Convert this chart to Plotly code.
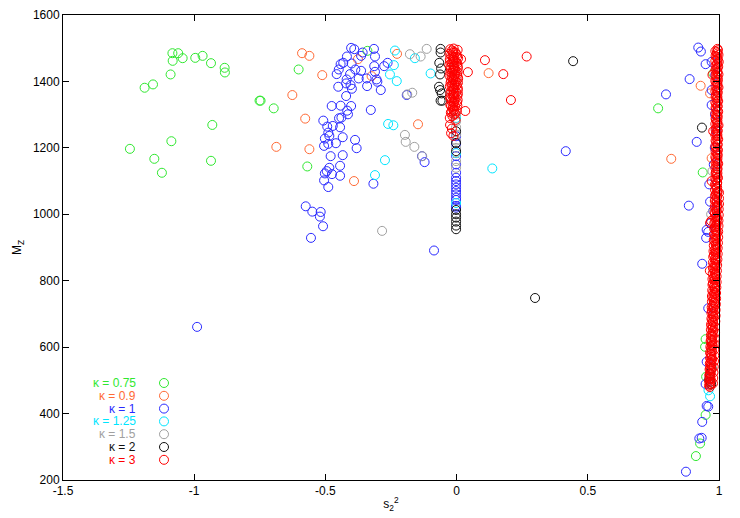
import plotly.graph_objects as go

# ── data ─────────────────────────────────────────────────────────────────────

K075_X = [-1.083, -1.061, -1.082, -1.044, -0.996, -0.968, -0.936, -0.884, -0.883, -1.090,
          -1.157, -1.189, -0.751, -0.747, -0.697, -0.931, -1.087, -1.245, -1.152, -0.936,
          -1.123, -0.569, -0.602, -0.340, 0.768, 0.938, 0.978, 0.949, 0.947, 0.951,
          0.949, 0.928, 0.912]
K075_Y = [1485, 1485, 1462, 1470, 1471, 1477, 1455, 1441, 1427, 1421,
          1391, 1381, 1342, 1342, 1319, 1269, 1220, 1197, 1167, 1161,
          1125, 1144, 1436, 1492, 1319, 1126, 1424, 624, 601, 511,
          396, 310, 272]

K09_X = [-0.589, -0.561, -0.626, -0.577, -0.687, -0.561, -0.512, -0.376, -0.227, -0.324,
         -0.147, -0.391, 0.122, 0.930, 0.818, 0.966, 0.972]
K09_Y = [1485, 1477, 1359, 1288, 1203, 1196, 1419, 1467, 1483, 1416,
         1271, 1100, 1425, 1387, 1167, 1364, 1169]

K1_X = [-0.402, -0.390, -0.315, -0.418, -0.358, -0.364, -0.311, -0.432, -0.442, -0.400,
        -0.449, -0.457, -0.386, -0.364, -0.406, -0.314, -0.311, -0.263, -0.276, -0.373,
        -0.343, -0.419, -0.421, -0.305, -0.302, -0.451, -0.404, -0.399, -0.341, -0.289,
        -0.421, -0.190, -0.476, -0.442, -0.402, -0.417, -0.414, -0.327, -0.448, -0.439,
        -0.508, -0.493, -0.472, -0.444, -0.489, -0.485, -0.502, -0.434, -0.387, -0.505,
        -0.489, -0.460, -0.381, -0.480, -0.434, -0.485, -0.444, -0.495, -0.502, -0.475,
        -0.444, -0.505, -0.489, -0.317, -0.132, -0.122, -0.575, -0.550, -0.518, -0.521,
        -0.509, -0.555, -0.086, -0.989, 0.416,
        # column at zero
        -0.002, -0.002, -0.002, -0.002, -0.002, -0.002, -0.002, -0.002, -0.002, -0.002,
        -0.002, -0.002, -0.002, -0.002, -0.002,
        # cluster at one
        0.921, 0.931, 0.949, 0.888, 0.798, 0.915, 0.885, 0.972, 0.972, 0.972,
        0.963, 0.966, 0.968, 0.953, 0.951, 0.936, 0.959, 0.953, 0.949, 0.953,
        0.936, 0.925, 0.934, 0.874, 0.959, 0.959, 0.985, 0.990, 0.984, 0.980,
        0.986, 0.978]
K1_Y = [1501, 1497, 1498, 1475, 1487, 1477, 1475, 1456, 1452, 1454,
        1436, 1422, 1436, 1432, 1422, 1446, 1429, 1456, 1446, 1409,
        1409, 1406, 1394, 1406, 1399, 1384, 1389, 1378, 1386, 1374,
        1356, 1359, 1326, 1327, 1326, 1312, 1301, 1314, 1289, 1291,
        1282, 1264, 1266, 1262, 1246, 1236, 1228, 1232, 1224, 1206,
        1212, 1214, 1199, 1175, 1178, 1140, 1146, 1130, 1123, 1121,
        1116, 1102, 1082, 1092, 1175, 1157, 1024, 1008, 1007, 993,
        964, 929, 891, 661, 1190,
        1235, 1212, 1175, 1150, 1125, 1110, 1100, 1090, 1080, 1070,
        1060, 1050, 1043, 1025, 1020,
        1502, 1490, 1452, 1407, 1361, 1218, 1026, 1459, 1374, 1329,
        1090, 1038, 973, 953, 929, 851, 717, 556, 489, 423,
        375, 325, 327, 225, 947, 421, 1300, 1250, 1200, 1150,
        1420, 1010]

K125_X = [-0.235, -0.159, -0.239, -0.254, -0.228, -0.099, -0.261, -0.241, -0.273, -0.311,
          0.136, -0.002, -0.002, -0.002, 0.966, 0.960]
K125_Y = [1493, 1470, 1449, 1421, 1401, 1424, 1272, 1268, 1163, 1118,
          1138, 1034, 1184, 1290, 452, 470]

K15_X = [-0.178, -0.137, -0.114, -0.188, -0.169, -0.197, -0.194, -0.161, -0.131, -0.284,
         -0.002, -0.002, -0.002, -0.002, -0.002, -0.002, -0.002, -0.002, -0.010, 0.000,
         -0.005, 0.975, 0.970]
K15_Y = [1482, 1475, 1498, 1361, 1366, 1239, 1218, 1203, 1175, 950,
         1300, 1280, 1262, 1240, 1222, 1200, 1160, 1140, 1440, 1400,
         1360, 1130, 1000]

K2_X = [0.444, 0.299, -0.061, -0.061, -0.066, -0.059, -0.063, -0.067, -0.063, -0.057,
        -0.061, -0.054, -0.002, -0.002, -0.002, -0.002, -0.002, -0.002, -0.002, -0.002,
        -0.002, 0.935, 0.972, 0.966, 0.963, 0.968, 0.970]
K2_Y = [1461, 748, 1498, 1487, 1456, 1439, 1421, 1384, 1374, 1364,
        1342, 1342, 1250, 1215, 1190, 1013, 1000, 990, 978, 966,
        955, 1261, 536, 520, 505, 496, 488]

# κ = 3 as (s2^2, M_Z) pairs: loose rings, the stack at zero, the stack at one
K3_LOOSE = [(0.017, 1467), (0.108, 1464), (0.267, 1475), (0.043, 1428), (0.178, 1422),
            (0.207, 1344), (0.033, 1311), (0.975, 1420), (0.978, 1250), (0.972, 1100),
            (0.970, 980), (0.966, 974), (0.965, 830)]
K3_ZERO = [(-0.024, 1497), (0.004, 1495), (-0.012, 1490), (-0.027, 1483), (0.000, 1481),
           (-0.015, 1476), (0.006, 1470), (-0.026, 1467), (-0.008, 1463), (-0.019, 1457),
           (0.003, 1454), (-0.028, 1449), (-0.011, 1445), (0.005, 1440), (-0.022, 1436),
           (-0.004, 1431), (-0.017, 1425), (0.002, 1421), (-0.027, 1417), (-0.010, 1412),
           (0.006, 1408), (-0.021, 1403), (-0.003, 1399), (-0.016, 1393), (0.001, 1389),
           (-0.026, 1385), (-0.009, 1380), (0.005, 1375), (-0.020, 1371), (-0.002, 1366),
           (-0.014, 1360), (0.003, 1356), (-0.025, 1351), (-0.007, 1346), (-0.018, 1340),
           (0.002, 1336), (-0.024, 1330), (-0.006, 1325), (-0.015, 1318), (0.001, 1312),
           (-0.022, 1306), (-0.010, 1300), (-0.026, 1290), (-0.004, 1284), (-0.025, 1269),
           (-0.018, 1258), (-0.021, 1244), (-0.012, 1236),
           (-0.018, 1493), (-0.004, 1487), (-0.021, 1479), (0.002, 1474), (-0.013, 1466),
           (-0.025, 1460), (-0.001, 1458), (-0.016, 1451), (0.004, 1447), (-0.023, 1442),
           (-0.007, 1438), (-0.013, 1433), (0.004, 1428), (-0.024, 1427), (-0.006, 1420),
           (-0.019, 1414), (0.004, 1414), (-0.012, 1405), (-0.023, 1396), (0.005, 1396),
           (-0.007, 1391), (-0.019, 1386), (0.004, 1381), (-0.013, 1374), (-0.024, 1364),
           (0.005, 1363), (-0.010, 1357), (-0.021, 1349), (0.004, 1344), (-0.012, 1335),
           (-0.021, 1326), (0.003, 1327), (-0.009, 1315), (-0.019, 1310), (-0.005, 1303),
           (-0.016, 1296),
           (-0.011, 1499), (-0.013, 1486), (-0.010, 1472), (-0.012, 1459), (-0.009, 1446),
           (-0.012, 1432), (-0.010, 1419), (-0.013, 1406), (-0.009, 1392), (-0.012, 1379),
           (-0.010, 1366), (-0.012, 1352), (-0.009, 1339), (-0.013, 1326), (-0.011, 1312)]
K3_ONE = [(0.996, 1494), (0.992, 1488), (0.998, 1480), (0.991, 1474), (0.995, 1466),
          (0.999, 1459), (0.992, 1452), (0.997, 1444), (0.990, 1437), (0.994, 1430),
          (0.998, 1421), (0.991, 1414), (0.996, 1405), (0.990, 1398), (0.994, 1390),
          (0.998, 1382), (0.991, 1374), (0.995, 1366), (0.989, 1358), (0.993, 1350),
          (0.997, 1341), (0.990, 1333), (0.995, 1325), (0.989, 1317), (0.997, 1309),
          (0.991, 1300), (0.995, 1292), (0.989, 1284), (0.993, 1276), (0.998, 1268),
          (0.990, 1260), (0.995, 1251), (0.989, 1243), (0.993, 1235), (0.997, 1226),
          (0.990, 1218), (0.995, 1210), (0.989, 1201), (0.996, 1193), (0.991, 1185),
          (0.995, 1177), (0.989, 1168), (0.993, 1160), (0.997, 1152), (0.990, 1144),
          (0.994, 1135), (0.988, 1127), (0.992, 1119), (0.996, 1110), (0.989, 1102),
          (0.993, 1094), (0.987, 1086), (0.991, 1077), (0.995, 1069), (0.988, 1061),
          (0.992, 1052), (0.986, 1044), (0.990, 1036), (0.994, 1027), (0.987, 1019),
          (0.991, 1011), (0.985, 1002), (0.989, 994), (0.993, 986), (0.986, 977),
          (0.990, 969), (0.984, 961), (0.988, 952), (0.992, 944), (0.985, 936),
          (0.989, 927), (0.983, 919), (0.987, 910), (0.990, 902), (0.984, 894),
          (0.987, 885), (0.981, 877), (0.985, 868), (0.988, 860), (0.982, 851),
          (0.985, 843), (0.979, 835), (0.983, 826), (0.986, 818), (0.980, 809),
          (0.983, 801), (0.977, 792), (0.981, 784), (0.984, 776), (0.978, 767),
          (0.981, 759), (0.975, 750), (0.979, 742), (0.982, 733), (0.976, 725),
          (0.979, 716), (0.973, 708), (0.977, 699), (0.980, 691), (0.974, 682),
          (0.977, 674), (0.971, 665), (0.975, 657), (0.978, 648), (0.972, 640),
          (0.975, 631), (0.970, 622), (0.973, 614), (0.976, 605), (0.970, 597),
          (0.973, 588), (0.968, 580), (0.971, 571), (0.974, 563), (0.968, 554),
          (0.971, 546), (0.966, 537), (0.969, 529), (0.967, 520), (0.965, 512),
          (0.968, 503), (0.964, 495), (0.966, 487), (0.965, 480),
          (0.986, 1491), (1.002, 1484), (0.987, 1477), (1.001, 1470), (0.986, 1462),
          (1.002, 1455), (0.987, 1448), (1.001, 1440), (0.986, 1433), (1.002, 1426),
          (0.987, 1417), (1.001, 1409), (0.986, 1401), (1.002, 1394), (0.987, 1386),
          (1.001, 1378), (0.986, 1370), (1.002, 1362), (0.987, 1354), (1.001, 1346),
          (0.986, 1337), (1.002, 1329), (0.987, 1321), (1.001, 1313), (0.986, 1304),
          (1.002, 1296), (0.987, 1288), (1.001, 1280), (0.986, 1272), (1.002, 1264),
          (0.987, 1255), (1.001, 1247), (0.986, 1239), (1.002, 1230), (0.987, 1222),
          (1.001, 1214), (0.986, 1205), (1.002, 1197), (0.987, 1189), (1.001, 1181),
          (0.986, 1172), (1.002, 1164), (0.987, 1156), (1.001, 1148), (0.986, 1139),
          (1.002, 1131), (0.987, 1123), (1.001, 1114), (0.986, 1106), (1.001, 1098),
          (0.985, 1090), (1.001, 1081), (0.985, 1073), (1.000, 1065), (0.985, 1056),
          (1.000, 1048), (0.984, 1040), (1.000, 1031), (0.984, 1023), (0.999, 1015),
          (0.983, 1006), (0.999, 998), (0.983, 990), (0.998, 981), (0.982, 973),
          (0.998, 965), (0.982, 956), (0.997, 948), (0.981, 940), (0.997, 931),
          (0.980, 923), (0.996, 914), (0.980, 906), (0.995, 898), (0.979, 889),
          (0.995, 881), (0.978, 872), (0.994, 864), (0.977, 855), (0.993, 847),
          (0.977, 839), (0.992, 830), (0.976, 822), (0.991, 813), (0.975, 805),
          (0.991, 796), (0.975, 788), (0.990, 780), (0.974, 771), (0.989, 763),
          (0.973, 754), (0.989, 746), (0.973, 737), (0.988, 729), (0.972, 720),
          (0.987, 712), (0.971, 703), (0.987, 695), (0.971, 686), (0.986, 678),
          (0.970, 669), (0.985, 661), (0.969, 652), (0.985, 644), (0.969, 635),
          (0.984, 626), (0.968, 618), (0.983, 609), (0.967, 601), (0.982, 592),
          (0.966, 584), (0.982, 575), (0.966, 567), (0.981, 558), (0.965, 550),
          (0.980, 541), (0.964, 533), (0.979, 524), (0.963, 516), (0.978, 507),
          (0.962, 499), (0.977, 491), (0.962, 484),
          (0.994, 1498), (0.994, 1484), (0.994, 1469), (0.994, 1455), (0.994, 1441),
          (0.994, 1426), (0.994, 1412), (0.994, 1397), (0.994, 1383), (0.994, 1369),
          (0.994, 1354), (0.994, 1340), (0.994, 1325), (0.994, 1311), (0.994, 1297),
          (0.994, 1282), (0.994, 1268), (0.994, 1253), (0.994, 1239), (0.994, 1225),
          (0.994, 1210), (0.994, 1196), (0.994, 1181), (0.994, 1167), (0.994, 1153),
          (0.994, 1138), (0.994, 1124), (0.994, 1109), (0.993, 1095), (0.993, 1081),
          (0.993, 1066), (0.992, 1052), (0.992, 1037), (0.992, 1023), (0.991, 1009),
          (0.991, 994), (0.991, 980), (0.990, 965), (0.990, 951), (0.990, 937),
          (0.990, 922), (0.989, 908), (0.989, 893), (0.988, 879), (0.987, 865),
          (0.987, 850), (0.986, 836), (0.986, 821), (0.985, 807), (0.985, 793),
          (0.984, 778), (0.983, 764), (0.982, 749), (0.981, 735), (0.980, 721),
          (0.979, 706), (0.978, 692), (0.977, 677), (0.977, 663), (0.976, 649),
          (0.975, 634), (0.974, 620), (0.973, 605), (0.972, 591), (0.971, 577),
          (0.970, 562), (0.970, 548), (0.969, 533), (0.968, 519), (0.967, 505),
          (0.967, 490)]

KAPPA_LABELS = ["0.75", "0.9", "1", "1.25", "1.5", "2", "3"]
COLORS = ["#30e830", "#ff6a35", "#2a2aff", "#00e5ff", "#a0a0a0", "#111111", "#ff0000"]

X_TICKS = [-1.5, -1, -0.5, 0, 0.5, 1]
X_TICK_TEXT = ["-1.5", "-1", "-0.5", "0", "0.5", "1"]
Y_TICKS = [200, 400, 600, 800, 1000, 1200, 1400, 1600]

k3 = K3_LOOSE + K3_ZERO + K3_ONE
K3_X = [p[0] for p in k3]
K3_Y = [p[1] for p in k3]

SERIES = [(K075_X, K075_Y), (K09_X, K09_Y), (K1_X, K1_Y), (K125_X, K125_Y),
          (K15_X, K15_Y), (K2_X, K2_Y), (K3_X, K3_Y)]
for xs, ys in SERIES:
    assert len(xs) == len(ys)

FONT = "Liberation Sans, Arial, sans-serif"
SYMBOL = "circle-open"
MSIZE = 9

# the page body has an 8px default margin, so the figure is shrunk by that much
PAGE_OFF = 8

fig = go.Figure()
for (xs, ys), col, lab in zip(SERIES, COLORS, KAPPA_LABELS):
    fig.add_trace(go.Scatter(
        x=xs, y=ys, mode="markers", name=f"κ = {lab}", showlegend=False,
        cliponaxis=False,
        marker=dict(symbol=SYMBOL, size=MSIZE, color=col, line=dict(width=1, color=col)),
    ))

# gnuplot-style key: text right-aligned, symbol to its right (pixel coords on an overlay axis)
key_y = [383 + 12.8 * i for i in range(len(KAPPA_LABELS))]
fig.add_trace(go.Scatter(
    x=[164] * len(KAPPA_LABELS), y=key_y, xaxis="x2", yaxis="y2",
    mode="markers", showlegend=False, hoverinfo="skip",
    marker=dict(symbol=SYMBOL, size=MSIZE, color=COLORS, line=dict(width=1, color=COLORS)),
))
for lab, col, yy in zip(KAPPA_LABELS, COLORS, key_y):
    fig.add_annotation(x=138, y=yy, xref="x2", yref="y2", text=f"κ = {lab}",
                       showarrow=False, xanchor="right", yanchor="middle",
                       font=dict(family=FONT, size=12, color=col))

axis_common = dict(showline=True, linecolor="black", linewidth=1, mirror="ticks",
                   ticks="inside", ticklen=6, tickcolor="black", showgrid=False,
                   zeroline=False, automargin=False,
                   tickfont=dict(family=FONT, size=12, color="black"))

fig.update_layout(
    width=740 - PAGE_OFF, height=518 - PAGE_OFF,
    margin=dict(l=63 - PAGE_OFF, r=21, t=15 - PAGE_OFF, b=38),
    paper_bgcolor="white", plot_bgcolor="white",
    font=dict(family=FONT, size=12, color="black"),
    xaxis=dict(range=[-1.5, 1], tickvals=X_TICKS, ticktext=X_TICK_TEXT,
               title=dict(text="s<sub>2</sub><sup>2</sup>", standoff=2,
                          font=dict(family=FONT, size=12)),
               **axis_common),
    yaxis=dict(range=[200, 1600], tickvals=Y_TICKS,
               title=dict(text="M<sub>Z</sub>", standoff=8,
                          font=dict(family=FONT, size=12)),
               **axis_common),
    xaxis2=dict(range=[63, 719], overlaying="x", visible=False, fixedrange=True),
    yaxis2=dict(range=[480, 15], overlaying="y", visible=False, fixedrange=True),
    showlegend=False,
)

fig.write_html("out.html")
